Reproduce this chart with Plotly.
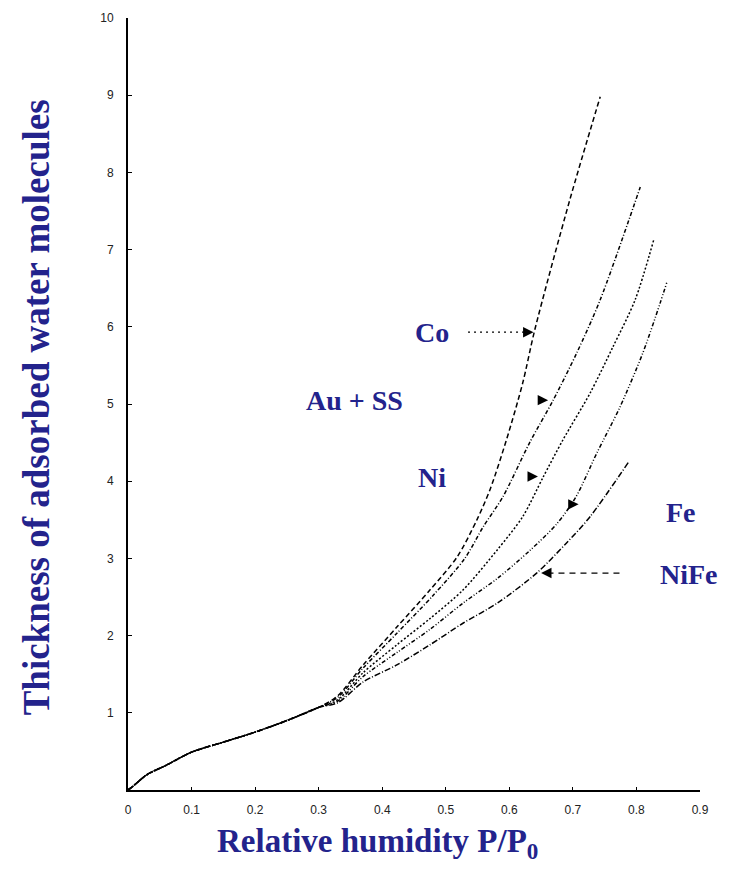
import plotly.graph_objects as go

# Shared low-humidity part of all isotherms
common_x = [0.0, 0.008, 0.03, 0.06, 0.1, 0.15, 0.2, 0.25, 0.3]
common_y = [0.0, 0.05, 0.20, 0.32, 0.49, 0.62, 0.75, 0.90, 1.07]

co_x = [0.33, 0.37, 0.423, 0.475, 0.518, 0.549, 0.570, 0.596, 0.621, 0.640, 0.695, 0.743]
co_y = [1.22, 1.62, 2.11, 2.59, 3.02, 3.50, 3.90, 4.55, 5.27, 5.96, 7.64, 8.98]

auss_x = [0.33, 0.37, 0.423, 0.48, 0.53, 0.559, 0.59, 0.632, 0.669, 0.706, 0.743, 0.806]
auss_y = [1.20, 1.58, 2.03, 2.52, 3.00, 3.41, 3.80, 4.50, 5.05, 5.66, 6.35, 7.81]

ni_x = [0.33, 0.37, 0.423, 0.475, 0.527, 0.581, 0.621, 0.653, 0.684, 0.727, 0.763, 0.798, 0.827]
ni_y = [1.17, 1.52, 1.88, 2.22, 2.59, 3.11, 3.54, 4.05, 4.53, 5.14, 5.74, 6.35, 7.12]

fe_x = [0.33, 0.37, 0.423, 0.475, 0.527, 0.581, 0.632, 0.675, 0.705, 0.738, 0.774, 0.810, 0.837, 0.848]
fe_y = [1.15, 1.47, 1.78, 2.08, 2.42, 2.74, 3.10, 3.45, 3.80, 4.37, 4.96, 5.66, 6.30, 6.58]

nife_x = [0.33, 0.37, 0.423, 0.475, 0.527, 0.581, 0.643, 0.690, 0.727, 0.787]
nife_y = [1.13, 1.40, 1.62, 1.88, 2.16, 2.42, 2.81, 3.20, 3.54, 4.24]

series = [
    ("Co", co_x, co_y, "5px,3px"),
    ("Au + SS", auss_x, auss_y, "4px,2px,1px,2px"),
    ("Ni", ni_x, ni_y, "2px,2px"),
    ("Fe", fe_x, fe_y, "4px,2px,1px,2px,1px,2px"),
    ("NiFe", nife_x, nife_y, "6px,2px,1px,2px"),
]

x_ticks = [0, 0.1, 0.2, 0.3, 0.4, 0.5, 0.6, 0.7, 0.8, 0.9]
x_tick_text = ["0", "0.1", "0.2", "0.3", "0.4", "0.5", "0.6", "0.7", "0.8", "0.9"]
y_ticks = [1, 2, 3, 4, 5, 6, 7, 8, 9, 10]

label_text = ["Co", "Au + SS", "Ni", "Fe", "NiFe"]
label_x = [0.478, 0.357, 0.478, 0.87, 0.882]
label_y = [5.93, 5.05, 4.05, 3.6, 2.79]

# arrowheads pointing at the curves (x, y, direction: -1 from left, +1 from right)
head_x = [0.638, 0.661, 0.645, 0.709, 0.650]
head_y = [5.93, 5.05, 4.06, 3.70, 2.81]
head_dir = [-1, -1, -1, -1, 1]

navy = "#23238c"
serif = "Liberation Serif, Times New Roman, serif"
fig = go.Figure()
for name, xs, ys, dash in series:
    fig.add_trace(go.Scatter(
        x=common_x + xs, y=common_y + ys, mode="lines", name=name,
        line=dict(color="black", width=1.5, dash=dash, shape="spline", smoothing=0.8),
        showlegend=False, hoverinfo="skip"))

for t, lx, ly in zip(label_text, label_x, label_y):
    fig.add_annotation(x=lx, y=ly, text="<b>%s</b>" % t, showarrow=False,
                       font=dict(family=serif, size=28, color=navy))

# leader lines for Co (dotted) and NiFe (dashed)
fig.add_shape(type="line", x0=0.535, y0=5.93, x1=0.628, y1=5.93,
              line=dict(color="black", width=1.2, dash="2px,4px"))
fig.add_shape(type="line", x0=0.66, y0=2.81, x1=0.775, y1=2.81,
              line=dict(color="black", width=1.2, dash="6px,5px"))

for hx, hy, hd in zip(head_x, head_y, head_dir):
    fig.add_annotation(x=hx, y=hy, ax=7 * hd, ay=0, showarrow=True, arrowhead=2,
                       arrowsize=1.3, arrowwidth=1.6, arrowcolor="black", text="")

fig.add_annotation(x=0.392, y=0, yref="paper", yshift=-76, xref="x",
                   text="<b>Relative humidity P/P<sub>0</sub></b>", showarrow=False,
                   font=dict(family=serif, size=33, color=navy))
fig.add_annotation(x=0, xref="paper", xshift=-114, y=0.495, yref="paper",
                   text="<b>Thickness of adsorbed water molecules</b>", showarrow=False,
                   textangle=-90,
                   font=dict(family=serif, size=37, color=navy))

fig.update_layout(
    width=741, height=876,
    margin=dict(l=128, r=41, t=18, b=86),
    paper_bgcolor="white", plot_bgcolor="white",
)
fig.update_xaxes(range=[0, 0.9], tickvals=x_ticks, ticktext=x_tick_text,
                 showgrid=False, zeroline=False, showline=True, linecolor="black",
                 linewidth=2, ticks="inside", ticklen=3, tickcolor="black",
                 ticklabelstandoff=8,
                 tickfont=dict(family="Liberation Sans", size=12, color="#222"))
fig.update_yaxes(range=[0, 10], tickvals=y_ticks,
                 showgrid=False, zeroline=False, showline=True, linecolor="black",
                 linewidth=2, ticks="inside", ticklen=4, tickcolor="black",
                 ticklabelstandoff=10,
                 tickfont=dict(family="Liberation Sans", size=12, color="#222"))

fig.write_html("out.html")
